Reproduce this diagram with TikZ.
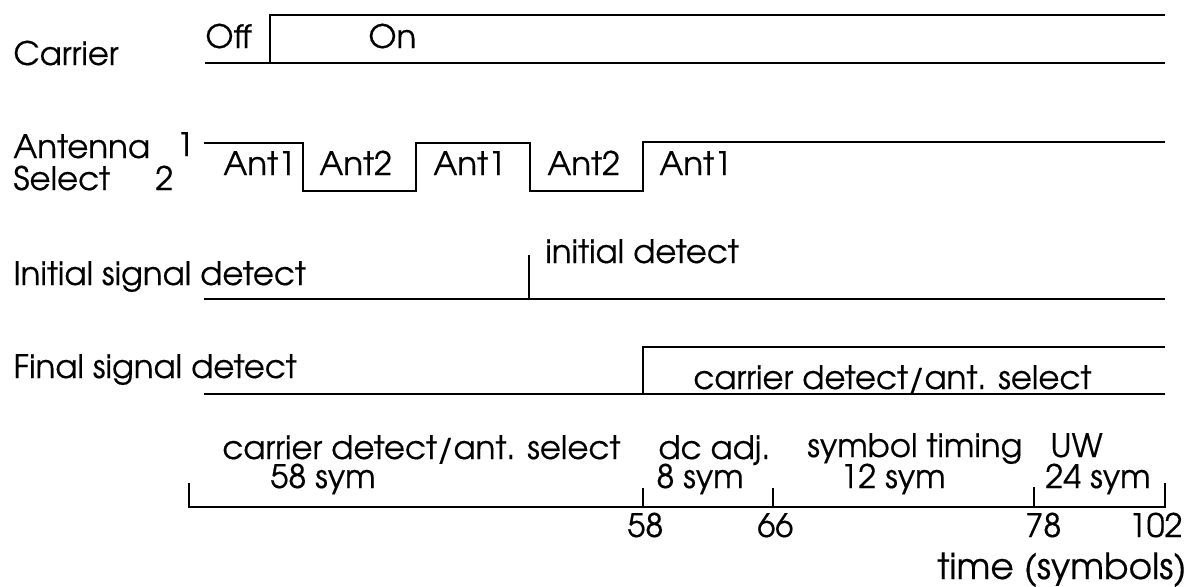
\documentclass[tikz,border=0pt]{standalone}
\usepackage{fontspec}
\setmainfont{TeX Gyre Adventor}
\begin{document}
\begin{tikzpicture}[x=0.5pt,y=-0.5pt,
  wave/.style={line width=1.4pt, line join=miter},
  lbl/.style={anchor=base west, inner sep=0pt, font=\fontsize{16.2}{19}\selectfont\addfontfeature{FakeBold=0.4}}]
\useasboundingbox (0,0) rectangle (1191,586);
% ---------- labels on the left
\node[lbl] (carrier) at (13,65) {Carrier};
\node[lbl] (antenna) at (13,158) {Antenna};
\node[lbl] (one) at (176,156) {1};
\node[lbl] (select) at (13,190) {Select};
\node[lbl] (two) at (155,190) {2};
\node[lbl] (initsig) at (13,285) {Initial signal detect};
\node[lbl] (finalsig) at (13,378) {Final signal detect};
% ---------- carrier
\coordinate (c0) at (205,63);
\coordinate (c1) at (270,63);
\coordinate (c2) at (270,15);
\coordinate (c3) at (1165,15);
\coordinate (c4) at (1165,63);
\draw[wave] (c0) -- (c4);
\draw[wave] (c1) -- (c2) -- (c3);
\node[lbl] (off) at (205,48) {Off};
\node[lbl] (on) at (368,48) {On};
% ---------- antenna select
\coordinate (a0) at (204,143);
\coordinate (a1) at (303,143);
\coordinate (a2) at (303,191);
\coordinate (a3) at (416,191);
\coordinate (a4) at (416,143);
\coordinate (a5) at (530,143);
\coordinate (a6) at (530,191);
\coordinate (a7) at (643,191);
\coordinate (a8) at (643,142);
\coordinate (a9) at (1165,142);
\draw[wave] (a0) -- (a1) -- (a2) -- (a3) -- (a4) -- (a5) -- (a6) -- (a7) -- (a8) -- (a9);
\node[lbl] (ant1a) at (223,175) {Ant1};
\node[lbl] (ant2a) at (319,175) {Ant2};
\node[lbl] (ant1b) at (433,175) {Ant1};
\node[lbl] (ant2b) at (547,175) {Ant2};
\node[lbl] (ant1c) at (659,175) {Ant1};
% ---------- initial signal detect
\coordinate (i0) at (204,299);
\coordinate (i1) at (1165,299);
\coordinate (it) at (529,299);
\coordinate (itt) at (529,255);
\draw[wave] (i0) -- (i1);
\draw[wave] (it) -- (itt);
\node[lbl] (initdet) at (545,263) {initial detect};
% ---------- final signal detect
\coordinate (f0) at (204,394);
\coordinate (f1) at (1165,394);
\coordinate (f2) at (643,394);
\coordinate (f3) at (643,347);
\coordinate (f4) at (1165,347);
\draw[wave] (f0) -- (f1);
\draw[wave] (f2) -- (f3) -- (f4);
\node[lbl] (cdas1) at (693,389) {carrier detect/ant. select};
% ---------- time axis
\coordinate (t0) at (189,507);
\coordinate (t0u) at (189,483);
\coordinate (t58) at (643,507);
\coordinate (t58u) at (643,488);
\coordinate (t66) at (773,507);
\coordinate (t66u) at (773,488);
\coordinate (t78) at (1034,507);
\coordinate (t78u) at (1034,487);
\coordinate (t102) at (1165,507);
\coordinate (t102u) at (1165,483);
\draw[wave] (t0u) -- (t0) -- (t102) -- (t102u);
\draw[wave] (t58) -- (t58u);
\draw[wave] (t66) -- (t66u);
\draw[wave] (t78) -- (t78u);
\node[lbl] (cdas2) at (222,459) {carrier detect/ant. select};
\node[lbl] (s58) at (270,488) {58 sym};
\node[lbl] (dc) at (658,459) {dc adj.};
\node[lbl] (s8) at (656,488) {8 sym};
\node[lbl] (st) at (807,457) {symbol timing};
\node[lbl] (s12) at (840,488) {12 sym};
\node[lbl] (uw) at (1050,457) {UW};
\node[lbl] (s24) at (1045,488) {24 sym};
\node[lbl] (n58) at (627,537) {58};
\node[lbl] (n66) at (757,537) {66};
\node[lbl] (n78) at (1025,537) {78};
\node[lbl, anchor=base east] (n102) at (1183,537) {102};
\node[lbl, anchor=base east, font=\fontsize{18}{21}\selectfont\addfontfeature{FakeBold=0.4}] (time) at (1187,579) {time (symbols)};
\end{tikzpicture}
\end{document}
